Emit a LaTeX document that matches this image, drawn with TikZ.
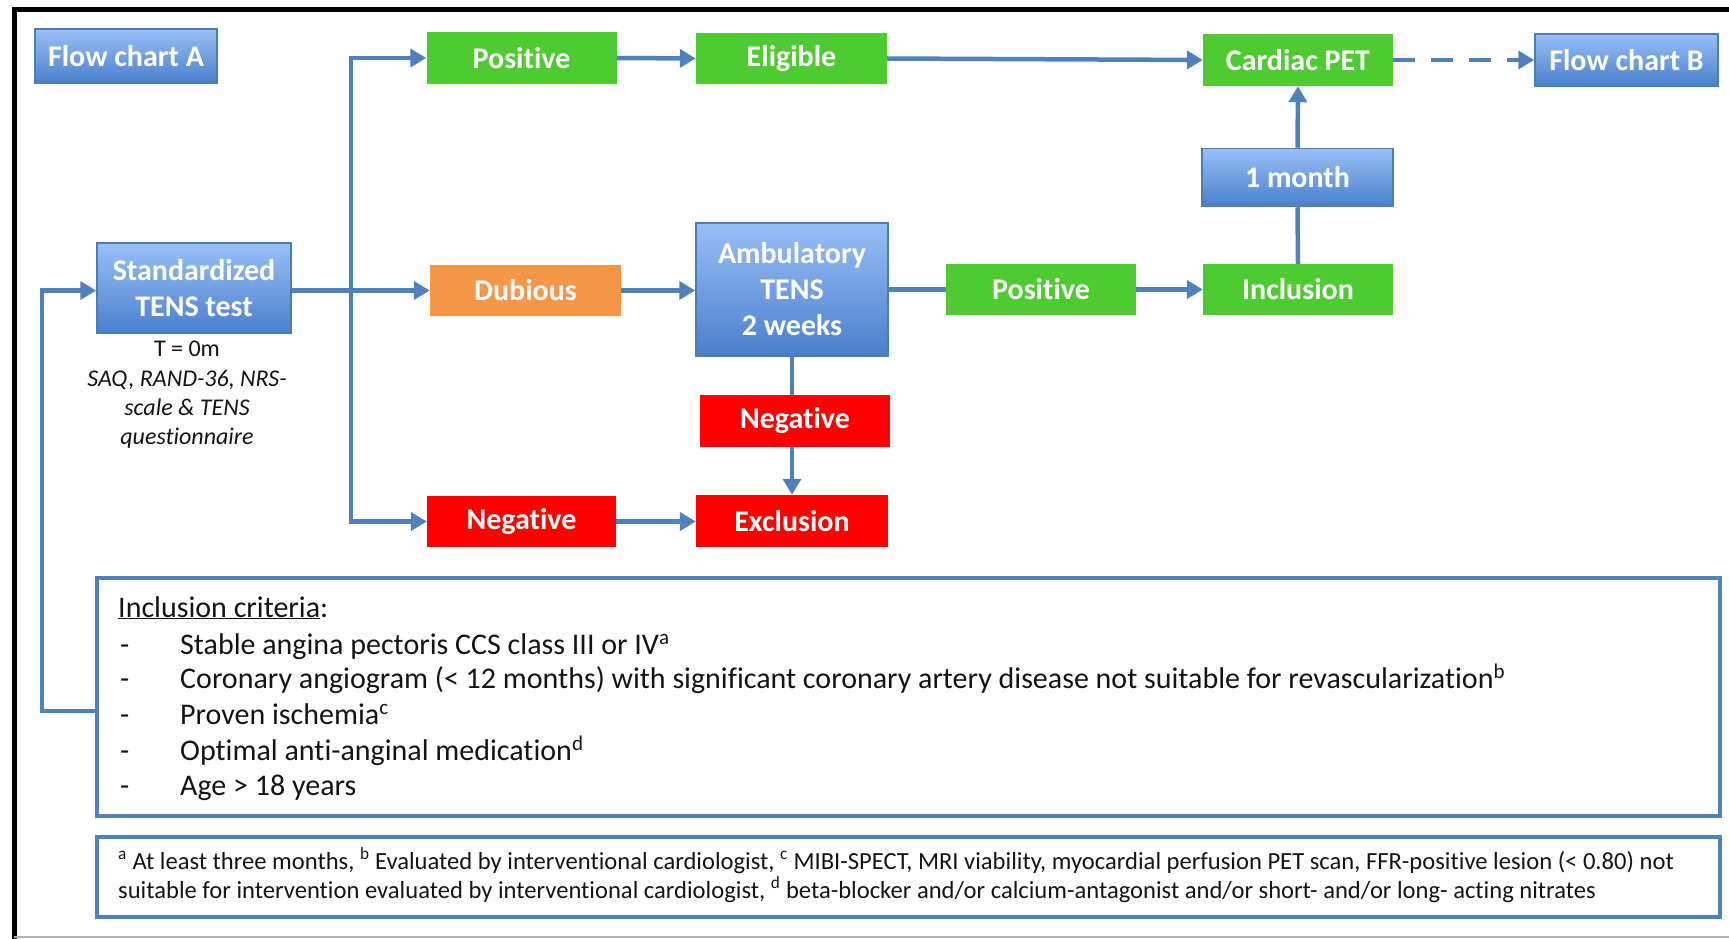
\documentclass[tikz,border=0pt]{standalone}
\usepackage{fontspec}
\setmainfont{Carlito}[Ligatures=NoCommon]
\usetikzlibrary{arrows.meta,calc}
\definecolor{gr}{RGB}{78,203,48}
\definecolor{orng}{RGB}{247,150,70}
\definecolor{rd}{RGB}{255,0,0}
\definecolor{ln}{RGB}{79,129,189}
\definecolor{lb}{RGB}{153,192,247}
\definecolor{db}{RGB}{74,127,204}
\definecolor{bord}{RGB}{74,126,187}
\definecolor{txt}{RGB}{20,20,20}
\tikzset{
  box/.style={rectangle, inner sep=0pt, text=white, align=center,
    font=\bfseries\fontsize{30}{36}\selectfont},
  greenbox/.style={box, fill=gr},
  orangebox/.style={box, fill=orng},
  redbox/.style={box, fill=rd},
  bluebox/.style={box, top color=lb, bottom color=db, draw=bord, line width=1.5pt},
  conn/.style={draw=ln, line width=4.5pt},
  arr/.style={conn, -{Triangle[length=16pt,width=18pt]}},
  critbox/.style={rectangle, draw=ln, line width=4pt, inner sep=0pt},
  crittext/.style={anchor=base west, inner sep=0pt, text=txt, font=\fontsize{30}{36}\selectfont},
  foottext/.style={anchor=base west, inner sep=0pt, text=txt, font=\fontsize{24.6}{29}\selectfont},
  notetext/.style={anchor=base, inner sep=0pt, text=txt, font=\fontsize{24}{29}\selectfont},
}
\begin{document}
\begin{tikzpicture}[x=1pt,y=-1pt]
\useasboundingbox (0,0) rectangle (1729,939);
% frame
\draw[black, line width=5pt] (14,939) -- (14,10) -- (1729,10);
\draw[gray!60, line width=1.5pt] (14,937) -- (1729,937);

% nodes
\node[bluebox, minimum width=182pt, minimum height=54pt] (flowA) at (126,56) {Flow chart A};
\node[bluebox, minimum width=194pt, minimum height=90pt] (std) at (194,288) {Standardized\\TENS test};
\node[greenbox, minimum width=190pt, minimum height=52pt] (pos1) at (521.5,58) {Positive};
\node[greenbox, minimum width=191pt, minimum height=51pt] (elig) at (791.5,58.5) {Eligible};
\node[greenbox, minimum width=190pt, minimum height=52pt] (pet) at (1298,60) {Cardiac PET};
\node[bluebox, minimum width=183pt, minimum height=52pt] (flowB) at (1626.5,60) {Flow chart B};
\node[bluebox, minimum width=191pt, minimum height=58pt] (month) at (1297.5,177.5) {1 month};
\node[greenbox, minimum width=190pt, minimum height=51pt] (incl) at (1298,289.5) {Inclusion};
\node[orangebox, minimum width=191pt, minimum height=51pt] (dub) at (525.5,290.5) {Dubious};
\node[bluebox, minimum width=192pt, minimum height=133pt] (amb) at (792,289.5) {Ambulatory\\TENS\\2 weeks};
\node[greenbox, minimum width=190pt, minimum height=51pt] (pos2) at (1041,289.5) {Positive};
\node[redbox, minimum width=190pt, minimum height=52pt] (neg2) at (795,421) {Negative};
\node[redbox, minimum width=189pt, minimum height=51pt] (neg1) at (521.5,521.5) {Negative};
\node[redbox, minimum width=192pt, minimum height=52pt] (excl) at (792,521) {Exclusion};

% note under standardized test
\node[notetext] (t1) at (187,356) {T = 0m};
\node[notetext, font=\itshape\fontsize{24}{29}\selectfont] (t2) at (187,386) {SAQ, RAND-36, NRS-};
\node[notetext, font=\itshape\fontsize{24}{29}\selectfont] (t3) at (187,415) {scale \& TENS};
\node[notetext, font=\itshape\fontsize{24}{29}\selectfont] (t4) at (187,444) {questionnaire};

% criteria box
\node[critbox, minimum width=1623pt, minimum height=238pt] (crit) at (908.5,697) {};
\node[crittext] (c0) at (118,617) {\underline{Inclusion criteria}:};
\node[crittext] (d1) at (120,654) {-};
\node[crittext] (c1) at (180,654) {Stable angina pectoris CCS class III or IV\textsuperscript{a}};
\node[crittext] (d2) at (120,688) {-};
\node[crittext] (c2) at (180,688) {Coronary angiogram (< 12 months) with significant coronary artery disease not suitable for revascularization\textsuperscript{b}};
\node[crittext] (d3) at (120,724) {-};
\node[crittext] (c3) at (180,724) {Proven ischemia\textsuperscript{c}};
\node[crittext] (d4) at (120,760) {-};
\node[crittext] (c4) at (180,760) {Optimal anti-anginal medication\textsuperscript{d}};
\node[crittext] (d5) at (120,795) {-};
\node[crittext] (c5) at (180,795) {Age > 18 years};

% footnote box
\node[critbox, minimum width=1623pt, minimum height=80pt] (foot) at (908.5,877) {};
\node[foottext] (f1) at (118,869) {\textsuperscript{a} At least three months, \textsuperscript{b} Evaluated by interventional cardiologist, \textsuperscript{c} MIBI-SPECT, MRI viability, myocardial perfusion PET scan, FFR-positive lesion (< 0.80) not};
\node[foottext] (f2) at (118,898) {suitable for intervention evaluated by interventional cardiologist, \textsuperscript{d} beta-blocker and/or calcium-antagonist and/or short- and/or long- acting nitrates};

% connectors
\coordinate (br) at (351,290.5);
\coordinate (fb) at (42,711);
\draw[arr] (std.east |- dub.west) -- (dub.west);
\draw[arr] (br) |- (pos1.west);
\draw[arr] (br) |- (neg1.west);
\draw[arr] (pos1.east) -- (elig.west);
\draw[arr] (elig.east) -- (pet.west);
\draw[arr, dash pattern=on 22pt off 16pt] (pet.east) -- (flowB.west);
\draw[arr] (dub.east) -- (amb.west |- dub.east);
\draw[conn] (amb.east |- pos2.west) -- (pos2.west);
\draw[arr] (pos2.east) -- (incl.west);
\draw[conn] (incl.north) -- (month.south);
\draw[arr] (month.north) -- (pet.south);
\draw[conn] (amb.south) -- (amb.south |- neg2.north);
\draw[arr] (neg2.south -| amb.south) -- (excl.north);
\draw[arr] (neg1.east) -- (excl.west |- neg1.east);
\draw[arr] (crit.west |- fb) -- (fb) |- (std.west |- dub.west);
\end{tikzpicture}
\end{document}
